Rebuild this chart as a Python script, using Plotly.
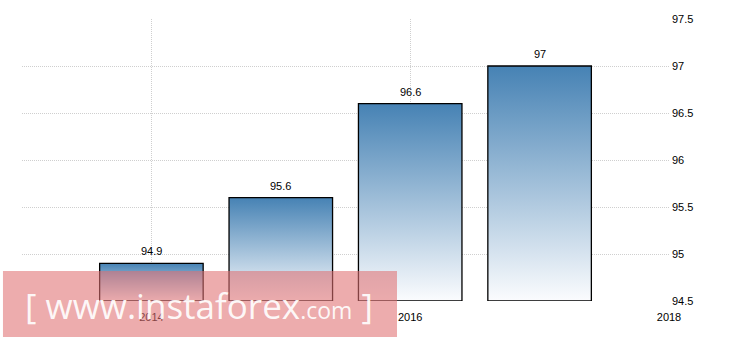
import plotly.graph_objects as go

years = [2014, 2015, 2016, 2017]
values = [94.9, 95.6, 96.6, 97.0]
labels = ["94.9", "95.6", "96.6", "97"]
y_ticks = [94.5, 95, 95.5, 96, 96.5, 97, 97.5]
y_tick_text = ["94.5", "95", "95.5", "96", "96.5", "97", "97.5"]
x_ticks = [2014, 2016, 2018]
x_tick_text = ["2014", "2016", "2018"]

BASE = 94.5
HALF_W = 0.4
FONT = "Liberation Sans"

fig = go.Figure()
for yr, v in zip(years, values):
    xs = [yr - HALF_W, yr + HALF_W, yr + HALF_W, yr - HALF_W, yr - HALF_W]
    ys = [BASE, BASE, v, v, BASE]
    fig.add_trace(go.Scatter(
        x=xs, y=ys, mode="lines", fill="toself",
        line=dict(color="black", width=1.3),
        fillgradient=dict(type="vertical",
                          colorscale=[[0, "#fbfcfe"], [1, "#4682b4"]]),
        hoverinfo="skip", showlegend=False,
    ))

for yr, v, lab in zip(years, values, labels):
    fig.add_annotation(x=yr, y=v, text=lab, showarrow=False,
                       xanchor="center", yanchor="bottom", yshift=4,
                       font=dict(family=FONT, size=11, color="black"))

grid = dict(showgrid=True, gridcolor="#cfcfcf", gridwidth=1, griddash="1px,1px",
            zeroline=False, showline=False)

fig.update_layout(
    width=730, height=340,
    margin=dict(l=22, r=61, t=19, b=39),
    paper_bgcolor="white", plot_bgcolor="white",
    font=dict(family=FONT, size=11, color="black"),
    xaxis=dict(range=[2013, 2018], tickvals=x_ticks, ticktext=x_tick_text,
               ticks="", ticklabelstandoff=8, **grid),
    yaxis=dict(range=[94.5, 97.5], tickvals=y_ticks, ticktext=y_tick_text,
               side="right", ticks="", ticklabelstandoff=2, **grid),
)

# watermark
fig.add_shape(type="rect", xref="paper", yref="paper",
              x0=-0.0294, x1=0.5796, y0=-0.1277, y1=0.1064,
              fillcolor="rgba(224,112,114,0.58)", line=dict(width=0),
              layer="above")
fig.add_annotation(
    xref="paper", yref="paper", x=0.273, y=-0.015,
    xanchor="center", yanchor="middle", showarrow=False,
    text="[ www.instaforex<span style='font-size:23px'>.com</span> ]",
    font=dict(family="Open Sans", size=35, color="rgba(255,255,255,0.92)"),
)

fig.write_html("out.html")
